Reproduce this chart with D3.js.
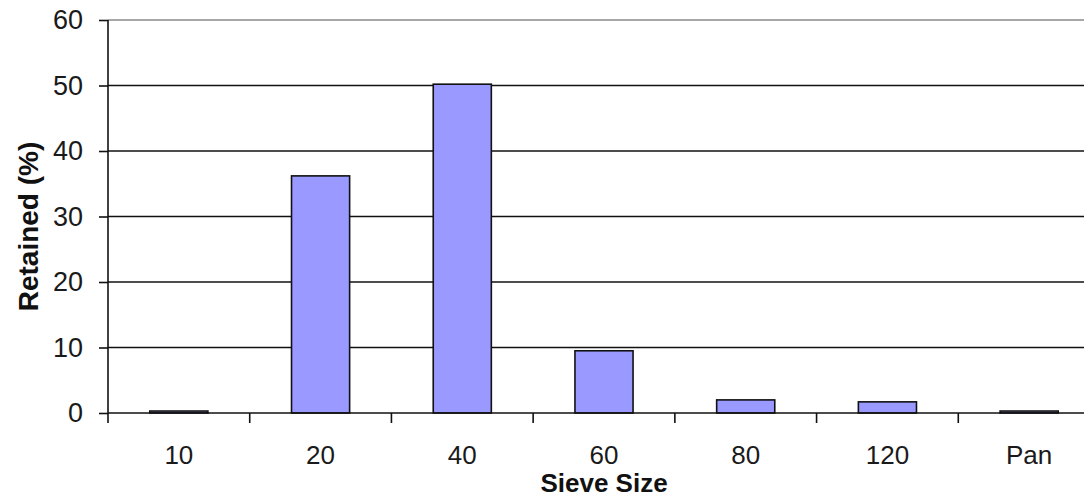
<!DOCTYPE html>
<html>
<head>
<meta charset="utf-8">
<script src="https://cdn.jsdelivr.net/npm/d3@7"></script>
<style>
  html, body { margin: 0; padding: 0; background: #fff; }
  svg { display: block; }
  text { font-family: "Liberation Sans", Arial, sans-serif; }
</style>
</head>
<body>
<svg id="chart" width="1084" height="498"></svg>
<script>
// Sieve analysis: percent retained on each sieve
const sieveSizes = ["10", "20", "40", "60", "80", "120", "Pan"];
const retainedPct = [0.3, 36.2, 50.2, 9.5, 2.0, 1.7, 0.3];
const yTicks = [0, 10, 20, 30, 40, 50, 60];

const svg = d3.select("#chart");
const plotLeft = 108, plotRight = 1100, plotTop = 20, plotBottom = 413;

const x = d3.scaleBand()
  .domain(sieveSizes)
  .range([plotLeft, plotRight])
  .paddingInner(0.59)
  .paddingOuter(0.295);

const y = d3.scaleLinear().domain([0, 60]).range([plotBottom, plotTop]);

// horizontal gridlines
svg.append("g")
  .selectAll("line")
  .data(yTicks.filter(d => d > 0))
  .join("line")
  .attr("x1", plotLeft).attr("x2", plotRight)
  .attr("y1", d => y(d)).attr("y2", d => y(d))
  .attr("stroke", d => d === 60 ? "#8a8a8a" : "#111")
  .attr("stroke-width", 1.6);

// bars
svg.append("g")
  .selectAll("rect")
  .data(sieveSizes.map((s, i) => ({ s, v: retainedPct[i] })))
  .join("rect")
  .attr("x", d => x(d.s))
  .attr("width", x.bandwidth())
  .attr("y", d => y(d.v))
  .attr("height", d => y(0) - y(d.v))
  .attr("fill", "#9999ff")
  .attr("stroke", "#111")
  .attr("stroke-width", 1.6);

// y axis
const yAxis = svg.append("g")
  .attr("transform", `translate(${plotLeft},0)`)
  .call(d3.axisLeft(y).tickValues(yTicks).tickSize(9).tickPadding(16).tickSizeOuter(0));
yAxis.select(".domain").remove();
yAxis.append("line")
  .attr("x1", 0).attr("x2", 0)
  .attr("y1", plotTop).attr("y2", plotBottom + 10)
  .attr("stroke", "#111").attr("stroke-width", 1.6);
yAxis.selectAll(".tick line").attr("stroke", "#111").attr("stroke-width", 1.6);
yAxis.selectAll(".tick text")
  .attr("fill", "#1a1a1a")
  .style("font-size", "27px");

// x axis: baseline, category ticks at band boundaries, labels under bars
const step = x.step();
const boundaries = sieveSizes.map(s => x(s) - step * 0.295).slice(1);
svg.append("line")
  .attr("x1", plotLeft).attr("x2", plotRight)
  .attr("y1", plotBottom).attr("y2", plotBottom)
  .attr("stroke", "#111").attr("stroke-width", 1.6);
svg.append("g")
  .selectAll("line")
  .data(boundaries)
  .join("line")
  .attr("x1", d => d).attr("x2", d => d)
  .attr("y1", plotBottom).attr("y2", plotBottom + 10)
  .attr("stroke", "#111").attr("stroke-width", 1.6);
svg.append("g")
  .selectAll("text")
  .data(sieveSizes)
  .join("text")
  .attr("x", d => x(d) + x.bandwidth() / 2)
  .attr("y", 464)
  .attr("text-anchor", "middle")
  .attr("fill", "#1a1a1a")
  .style("font-size", "26px")
  .text(d => d);

// axis titles
svg.append("text")
  .attr("x", (plotLeft + plotRight) / 2)
  .attr("y", 492)
  .attr("text-anchor", "middle")
  .attr("fill", "#111")
  .style("font-size", "26px")
  .style("font-weight", "bold")
  .text("Sieve Size");

svg.append("text")
  .attr("transform", `translate(38,${(plotTop + plotBottom) / 2 + 10}) rotate(-90)`)
  .attr("text-anchor", "middle")
  .attr("fill", "#111")
  .style("font-size", "28px")
  .style("font-weight", "bold")
  .text("Retained (%)");
</script>
</body>
</html>
